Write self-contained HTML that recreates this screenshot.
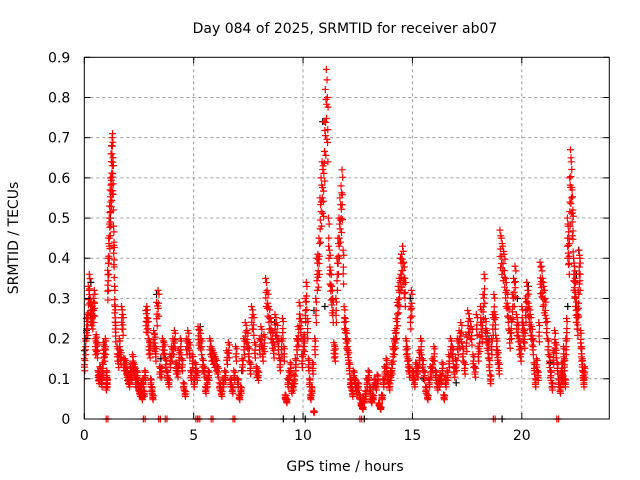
<!DOCTYPE html>
<html><head><meta charset="utf-8"><style>
body{margin:0;background:#fff}
svg{display:block;font-family:"DejaVu Sans","Liberation Sans",sans-serif}
</style></head><body>
<svg id="chart" width="640" height="480" viewBox="0 0 640 480">
<rect width="640" height="480" fill="#fff"/>
<g id="grid"></g>
<g id="black"></g>
<g id="red"></g>
<g id="axes"></g>
<text x="345" y="33" font-size="14" text-anchor="middle">Day 084 of 2025, SRMTID for receiver ab07</text>
<text x="345" y="471" font-size="14" text-anchor="middle">GPS time / hours</text>
<text x="18" y="238" font-size="14" text-anchor="middle" transform="rotate(-90 18 238)">SRMTID / TECUs</text>
</svg>
<script>
const xTicks=[0,5,10,15,20];
const yTicks=[0,0.1,0.2,0.3,0.4,0.5,0.6,0.7,0.8,0.9];
const yTickLabels=["0","0.1","0.2","0.3","0.4","0.5","0.6","0.7","0.8","0.9"];
const segStarts=[0.0,0.5,1.0,1.5,2.5,3.3,5.0,6.0,7.0,8.0,9.0,10.0,11.5,12.3,14.0,15.0,16.5,18.0,19.0,20.0,21.0,21.8];
const segEnds=[0.5,1.0,1.45,2.5,3.3,5.0,6.0,7.0,8.0,9.0,10.0,11.5,12.3,14.0,15.0,16.5,18.0,19.0,20.0,21.0,21.8,22.9];
const segValues=[
[0.15,0.2,0.25,0.26,0.33,0.36,0.30,0.29,0.28,0.3,0.32],
[0.2,0.21,0.19,0.12,0.11,0.13,0.12,0.1,0.14,0.19,0.18,0.2],
[0.09,0.12,0.1,0.37,0.4,0.45,0.5,0.53,0.57,0.6,0.66,0.68,0.7,0.71,0.65,0.48,0.44,0.33,0.28,0.24],
[0.18,0.16,0.2,0.17,0.28,0.26,0.15,0.15,0.14,0.12,0.11,0.1,0.13,0.12,0.16,0.14,0.13,0.1,0.12,0.09],
[0.08,0.07,0.09,0.06,0.1,0.07,0.12,0.27,0.28,0.25,0.2,0.19,0.1,0.08,0.06,0.22,0.21,0.18],
[0.29,0.32,0.13,0.13,0.2,0.19,0.15,0.12,0.1,0.16,0.18,0.2,0.22,0.14,0.13,0.17,0.2,0.15,0.09,0.07,0.2,0.22,0.19,0.12,0.16],
[0.1,0.14,0.12,0.23,0.22,0.2,0.15,0.13,0.08,0.1,0.12,0.2,0.18,0.17,0.16],
[0.15,0.13,0.09,0.07,0.1,0.12,0.17,0.19,0.1,0.08,0.12,0.18],
[0.1,0.06,0.08,0.15,0.2,0.24,0.22,0.18,0.14,0.28,0.26,0.19,0.13,0.12],
[0.2,0.23,0.18,0.21,0.35,0.32,0.28,0.25,0.22,0.19,0.26,0.24,0.2,0.15],
[0.2,0.25,0.18,0.06,0.05,0.1,0.12,0.14,0.08,0.09,0.11,0.15,0.2,0.23,0.29,0.25,0.16],
[0.2,0.21,0.3,0.34,0.25,0.15,0.1,0.06,0.08,0.14,0.02,0.2,0.3,0.4,0.41,0.45,0.55,0.6,0.64,0.63,0.74,0.82,0.87,0.8,0.5,0.42,0.37,0.33,0.3,0.19,0.18],
[0.3,0.4,0.45,0.5,0.55,0.58,0.62,0.42,0.28,0.25,0.22,0.2,0.17,0.14,0.1,0.09,0.07],
[0.12,0.1,0.08,0.09,0.06,0.04,0.03,0.05,0.07,0.1,0.12,0.08,0.05,0.06,0.1,0.09,0.11,0.04,0.03,0.06,0.1,0.13,0.15,0.11,0.09],
[0.12,0.14,0.18,0.2,0.22,0.25,0.29,0.33,0.35,0.4,0.41,0.43,0.39,0.35,0.2,0.18,0.15,0.13,0.28,0.32],
[0.12,0.1,0.14,0.13,0.17,0.2,0.15,0.12,0.08,0.06,0.1,0.13,0.15,0.18,0.12,0.09,0.1,0.11,0.14,0.06],
[0.1,0.12,0.16,0.2,0.18,0.13,0.15,0.2,0.22,0.24,0.18,0.14,0.21,0.27,0.25,0.23,0.16,0.13,0.26],
[0.18,0.21,0.28,0.24,0.31,0.36,0.25,0.22,0.19,0.15,0.11,0.2,0.26,0.31,0.26,0.2,0.17,0.14],
[0.47,0.45,0.43,0.41,0.35,0.32,0.28,0.22,0.25,0.31,0.35,0.38,0.26,0.24,0.2,0.18],
[0.28,0.24,0.22,0.3,0.34,0.32,0.28,0.26,0.23,0.2,0.14,0.1,0.15,0.12,0.24,0.39,0.38,0.35],
[0.33,0.3,0.25,0.2,0.16,0.12,0.09,0.17,0.22,0.19,0.14,0.1,0.08],
[0.12,0.14,0.11,0.18,0.15,0.1,0.2,0.25,0.5,0.48,0.45,0.6,0.67,0.64,0.57,0.52,0.4,0.38,0.35,0.3,0.28,0.26,0.32,0.42,0.4,0.22,0.18,0.15,0.12,0.1,0.13]
];
const blackTimes=[0.0,0.1,0.3,1.2,1.25,3.3,3.5,5.3,7.2,8.7,9.1,9.6,10.1,10.5,10.9,11.0,12.8,13.2,14.9,15.5,17.0,18.5,19.1,19.8,20.3,21.3,22.1,22.5,22.6];
const blackValues=[0.17,0.22,0.34,0.5,0.68,0.31,0.15,0.23,0.12,0.24,0.0,0.0,0.0,0.27,0.74,0.28,0.0,0.08,0.3,0.1,0.09,0.2,0.0,0.3,0.33,0.14,0.28,0.36,0.42];
const zeroRedTimes=[1.0,2.7,3.4,3.7,5.1,5.2,5.8,6.8,12.6,18.7,21.6];

const X0=84.3,X1=609.3,Y0=419,Y1=57.3,XMAX=24,YMAX=0.9;
const sx=t=>X0+(X1-X0)*t/XMAX;
const sy=v=>Y0-(Y0-Y1)*v/YMAX;
const NS='http://www.w3.org/2000/svg';
function mk(tag,attrs,parent){const e=document.createElementNS(NS,tag);for(const k in attrs)e.setAttribute(k,attrs[k]);parent.appendChild(e);return e;}
const grid=document.getElementById('grid'),axes=document.getElementById('axes');
xTicks.forEach(t=>{
  if(t>0){const g=mk('line',{x1:sx(t),x2:sx(t),y1:Y1,y2:Y0,stroke:'#a0a0a0','stroke-dasharray':'3,3','stroke-width':1},grid);
  
  }
  [[Y0,Y0-6],[Y1,Y1+6]].forEach(p=>{const l=mk('line',{x1:sx(t),x2:sx(t),y1:p[0],y2:p[1],stroke:'#000'},axes);
  
  });
  const tx=mk('text',{x:sx(t),y:Y0+21,'font-size':14,'text-anchor':'middle'},axes);tx.textContent=t;
  
  
});
yTicks.forEach((v,i)=>{
  if(v>0&&v<YMAX){const g=mk('line',{x1:X0,x2:X1,y1:sy(v),y2:sy(v),stroke:'#a0a0a0','stroke-dasharray':'3,3','stroke-width':1},grid);
  
  }
  [[X0,X0+6],[X1,X1-6]].forEach(p=>{const l=mk('line',{x1:p[0],x2:p[1],y1:sy(v),y2:sy(v),stroke:'#000'},axes);
  
  });
  const tx=mk('text',{x:X0-14,y:sy(v)+5,'font-size':14,'text-anchor':'end'},axes);tx.textContent=yTickLabels[i];
  
  
});
const fr=mk('rect',{x:X0,y:Y1,width:X1-X0,height:Y0-Y1,fill:'none',stroke:'#000','stroke-width':1},axes);


function plus(g,t,v,col){const x=sx(t),y=sy(v);
  const p=mk('path',{d:`M${x-3.5},${y}H${x+3.5}M${x},${y-3.5}V${y+3.5}`,stroke:col,'stroke-width':1.2,fill:'none'},g);
  
  }
const red=document.getElementById('red'),blk=document.getElementById('black');
blackTimes.forEach((t,i)=>plus(blk,t,blackValues[i],'#000'));
const copyDt=[0,0.33,0.66,0.5,0.17];
const copyDv=[1,0.9,0.97,0.8,0.86];
segValues.forEach((vals,s)=>{
  const a=segStarts[s],b=segEnds[s],n=vals.length,step=(b-a)/n;
  vals.forEach((v,i)=>{const t=a+step*i;
    copyDt.forEach((d,k)=>plus(red,t+d*step,Math.max(0.01,v*copyDv[k]),'#f00'));});
});
zeroRedTimes.forEach(t=>{plus(red,t,0,'#f00');plus(red,t+0.08,0,'#f00');});
</script>
</body></html>
